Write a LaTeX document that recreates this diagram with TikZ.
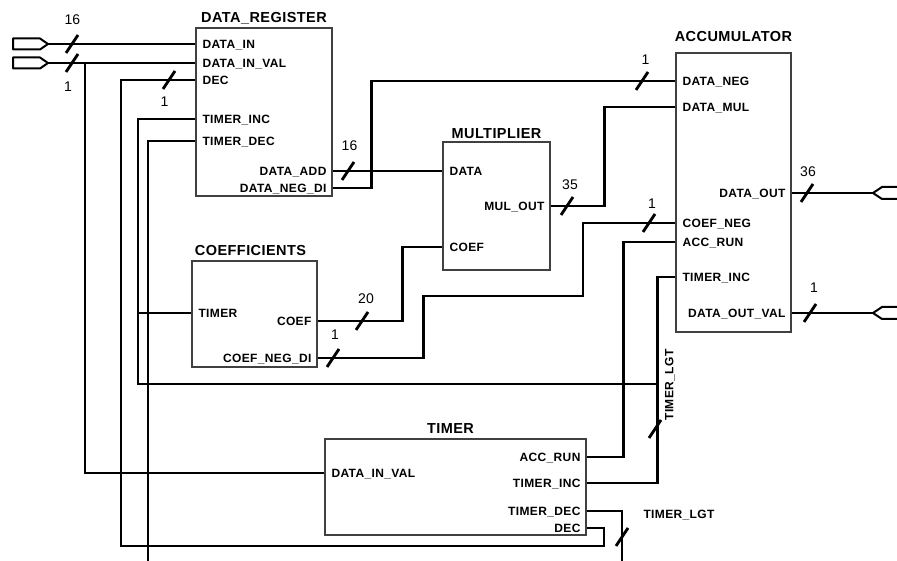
\documentclass[tikz,border=0pt]{standalone}
\usepackage{fontspec}
\setmainfont{Liberation Sans}
\newfontfamily\schfont[LetterSpace=3]{Liberation Sans}

\begin{document}
\begin{tikzpicture}[x=1pt,y=-1pt,
  block/.style={draw=black!75, line width=1.3pt, inner sep=0pt},
  wire/.style={line width=2.6pt},
  port/.style={font=\schfont\bfseries\fontsize{12}{14}\selectfont, inner sep=0pt},
  title/.style={font=\schfont\bfseries\fontsize{14.5}{17}\selectfont, inner sep=0pt},
  bits/.style={font=\fontsize{14}{16}\selectfont, inner sep=0pt},
  buswidth/.pic={\draw[line width=2.8pt] (-6,9) -- (6,-9);},
  inconn/.pic={\draw[line width=2pt, line join=round] (-35,-5.5) -- (-8,-5.5) -- (0,0) -- (-8,5.5) -- (-35,5.5) -- cycle;},
  outconn/.pic={\draw[line width=2pt] (30,-6) -- (9,-6) -- (0,0) -- (9,6) -- (30,6);}]
  \useasboundingbox (0,0) rectangle (897,561);

  % blocks
  \node[block, minimum width=136pt, minimum height=168pt] (dreg) at (264,112) {};
  \node[block, minimum width=107pt, minimum height=128pt] (mult) at (496.5,206) {};
  \node[block, minimum width=125pt, minimum height=106pt] (coef) at (254.5,314) {};
  \node[block, minimum width=115pt, minimum height=279pt] (acc) at (733.5,192.5) {};
  \node[block, minimum width=261pt, minimum height=96pt] (tmr) at (455.5,487) {};

  \node[title, anchor=base] (dreg-title) at ([yshift=5pt]dreg.north) {DATA\_REGISTER};
  \node[title, anchor=base] (mult-title) at ([yshift=3pt]mult.north) {MULTIPLIER};
  \node[title, anchor=base] (coef-title) at ([xshift=-4pt, yshift=5pt]coef.north) {COEFFICIENTS};
  \node[title, anchor=base] (acc-title) at ([yshift=11pt]acc.north) {ACCUMULATOR};
  \node[title, anchor=base] (tmr-title) at ([xshift=-5pt, yshift=5pt]tmr.north) {TIMER};

  % ports
  \foreach \b/\n/\t/\y in {dreg/din/DATA\_IN/44, dreg/dinval/DATA\_IN\_VAL/63, dreg/dec/DEC/80,
      dreg/tinc/TIMER\_INC/119, dreg/tdec/TIMER\_DEC/141, mult/data/DATA/171, mult/coef/COEF/247,
      coef/timer/TIMER/313, acc/neg/DATA\_NEG/81, acc/mul/DATA\_MUL/107, acc/coefneg/COEF\_NEG/223,
      acc/run/ACC\_RUN/242, acc/tinc/TIMER\_INC/277, tmr/dinval/DATA\_IN\_VAL/473} {
    \coordinate (\b-\n) at (\b.west |- 0,\y);
    \node[port, anchor=base west] at ([xshift=7pt, yshift=-4.3pt]\b-\n) {\t};
  }
  \foreach \b/\n/\t/\y in {dreg/add/DATA\_ADD/171, dreg/negdi/DATA\_NEG\_DI/188, mult/out/MUL\_OUT/206,
      coef/coef/COEF/321, coef/negdi/COEF\_NEG\_DI/358, acc/out/DATA\_OUT/193, acc/outval/DATA\_OUT\_VAL/313,
      tmr/run/ACC\_RUN/457, tmr/tinc/TIMER\_INC/483, tmr/tdec/TIMER\_DEC/511, tmr/dec/DEC/528} {
    \coordinate (\b-\n) at (\b.east |- 0,\y);
    \node[port, anchor=base east] at ([xshift=-6pt, yshift=-4.3pt]\b-\n) {\t};
  }

  % pins
  \coordinate (in-din) at (48,44);
  \coordinate (in-dinval) at (48,63);
  \coordinate (out-dout) at (873,193);
  \coordinate (out-doutval) at (873,313);
  \pic at (in-din) {inconn};
  \pic at (in-dinval) {inconn};
  \pic at (out-dout) {outconn};
  \pic at (out-doutval) {outconn};

  % nets
  \draw[wire] (in-din) -- (dreg-din);
  \draw[wire] (in-dinval) -- (dreg-dinval);
  \coordinate (dinval-tap) at (85,63);
  \draw[wire] (dinval-tap) |- (tmr-dinval);
  \draw[wire] (dreg-dec) -| (121,546) -| (tmr-dec -| 604,0) -- (tmr-dec);
  \draw[wire] (dreg-tinc) -| (138,384) -- (658,384);
  \draw[wire] (coef-timer) -- (coef-timer -| 138,0);
  \draw[wire] (acc-tinc) -- ++(-18,0) |- (tmr-tinc);
  \draw[wire] (dreg-tdec) -| (148,561);
  \draw[wire] (tmr-tdec) -| (622,561);
  \draw[wire] (dreg-add) -- (mult-data);
  \draw[wire] (dreg-negdi) -- ++(39,0) |- (acc-neg);
  \draw[wire] (mult-out) -- ++(54,0) |- (acc-mul);
  \draw[wire] (coef-coef) -- ++(85,0) |- (mult-coef);
  \draw[wire] (coef-negdi) -- ++(106,0) |- (583,296) |- (acc-coefneg);
  \draw[wire] (tmr-run) -- ++(37,0) |- (acc-run);
  \draw[wire] (acc-out) -- (out-dout);
  \draw[wire] (acc-outval) -- (out-doutval);

  % bus widths
  \foreach \p in {(72,44), (72,63), (169,80), (348,171), (642,81), (567,206), (362,321),
      (333,358), (649,223), (807,193), (810,313), (655,429), (622,537)}
    \pic at \p {buswidth};
  \node[bits] (w-din) at (72.5,20) {16};
  \node[bits] (w-dinval) at (68,87) {1};
  \node[bits] (w-dec) at (164.5,102) {1};
  \node[bits] (w-add) at (349.5,146) {16};
  \node[bits] (w-neg) at (645.5,60) {1};
  \node[bits] (w-mul) at (570,185) {35};
  \node[bits] (w-coef) at (366,299) {20};
  \node[bits] (w-negdi) at (335,335) {1};
  \node[bits] (w-coefneg) at (652,204) {1};
  \node[bits] (w-dout) at (808,172) {36};
  \node[bits] (w-doutval) at (814,288) {1};
  \node[port, rotate=90] (lgt-inc) at (670,385) {TIMER\_LGT};
  \node[port] (lgt-dec) at (679,515) {TIMER\_LGT};
\end{tikzpicture}
\end{document}
